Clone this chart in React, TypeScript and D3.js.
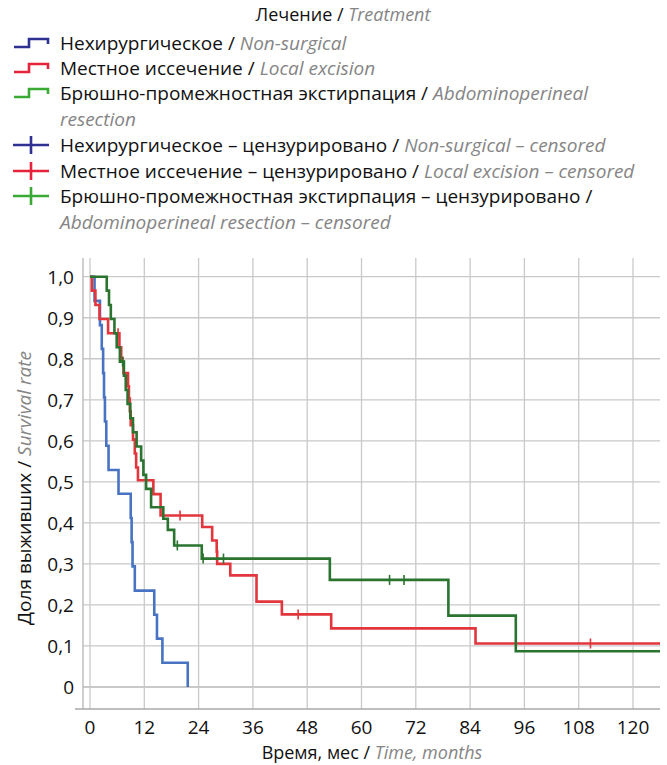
import React from "react";
import * as d3 from "d3";

// Kaplan–Meier step data: event times (months) and survival after each step
const nonSurgicalTimes = [0, 1.0, 2.2, 2.6, 2.9, 3.1, 3.3, 3.6, 4.1, 6.3, 9.0, 9.2, 9.4, 9.9, 14.2, 14.8, 16.0, 21.6];
const nonSurgicalSurv = [1, 0.941, 0.882, 0.824, 0.765, 0.706, 0.647, 0.588, 0.529, 0.471, 0.412, 0.353, 0.294, 0.235, 0.176, 0.118, 0.059, 0];
const nonSurgicalEnd = 21.6;
const nonSurgicalCensored: number[] = [];

const localTimes = [0, 0.4, 1.2, 2.1, 4.0, 6.5, 6.9, 7.4, 8.4, 8.6, 8.8, 9.0, 9.5, 9.9, 10.2, 10.6, 14.0, 15.6, 24.8, 27.0, 28.0, 28.1, 31.0, 36.8, 42.4, 53.3, 85.2];
const localSurv = [1, 0.966, 0.931, 0.897, 0.862, 0.828, 0.793, 0.765, 0.733, 0.703, 0.672, 0.638, 0.603, 0.569, 0.535, 0.504, 0.47, 0.418, 0.39, 0.357, 0.33, 0.3, 0.272, 0.208, 0.177, 0.143, 0.106];
const localEnd = 127;
const localCensored = [6.2, 7.3, 19.9, 46.0, 110.6];

const aprTimes = [0, 3.7, 4.2, 4.6, 5.4, 5.9, 6.6, 7.5, 7.9, 8.3, 8.9, 9.5, 10.3, 11.3, 11.8, 12.4, 13.5, 16.2, 17.2, 18.6, 24.7, 53.0, 79.2, 94.1];
const aprSurv = [1, 0.966, 0.931, 0.897, 0.862, 0.828, 0.793, 0.759, 0.724, 0.69, 0.655, 0.621, 0.586, 0.552, 0.517, 0.483, 0.438, 0.41, 0.383, 0.345, 0.313, 0.261, 0.174, 0.087];
const aprEnd = 127;
const aprCensored = [7.2, 19.3, 25.0, 29.5, 66.2, 69.4];

const xTicks = [0, 12, 24, 36, 48, 60, 72, 84, 96, 108, 120];
const yTicks = [0, 0.1, 0.2, 0.3, 0.4, 0.5, 0.6, 0.7, 0.8, 0.9, 1.0];

const legendTitle = ["Лечение / ", "Treatment"];
const legendRows = [
  { ru: "Нехирургическое / ", en: "Non-surgical", kind: "step", color: "#2e3192", extra: null },
  { ru: "Местное иссечение / ", en: "Local excision", kind: "step", color: "#e5243b", extra: null },
  { ru: "Брюшно-промежностная экстирпация / ", en: "Abdominoperineal", kind: "step", color: "#3aaa35", extra: "resection" },
  { ru: "Нехирургическое – цензурировано / ", en: "Non-surgical – censored", kind: "cross", color: "#2e3192", extra: null },
  { ru: "Местное иссечение – цензурировано / ", en: "Local excision – censored", kind: "cross", color: "#e5243b", extra: null },
  { ru: "Брюшно-промежностная экстирпация – цензурировано / ", en: "", kind: "cross", color: "#3aaa35", extra: "Abdominoperineal resection – censored" },
];

const FONT = "'Open Sans', 'Noto Sans', sans-serif";
const FS = 19;
const GREY = "#858585";

const W = 667;
const H = 765;
const plot = { left: 83, right: 660, top: 258, bottom: 709 };

const x = d3.scaleLinear().domain([0, 120]).range([90, 633]);
const y = d3.scaleLinear().domain([0, 1]).range([687, 276.7]);

type Series = {
  times: number[];
  surv: number[];
  end: number;
  censored: number[];
  color: string;
};

const series: Series[] = [
  { times: nonSurgicalTimes, surv: nonSurgicalSurv, end: nonSurgicalEnd, censored: nonSurgicalCensored, color: "#4773c2" },
  { times: localTimes, surv: localSurv, end: localEnd, censored: localCensored, color: "#e2353c" },
  { times: aprTimes, surv: aprSurv, end: aprEnd, censored: aprCensored, color: "#2a7430" },
];

function survivalAt(s: Series, t: number) {
  let v = s.surv[0];
  for (let i = 0; i < s.times.length; i++) {
    if (s.times[i] <= t) v = s.surv[i];
  }
  return v;
}

const stepLine = d3
  .line<[number, number]>()
  .x((d) => x(d[0]))
  .y((d) => y(d[1]))
  .curve(d3.curveStepAfter);

function seriesPath(s: Series) {
  const pts: [number, number][] = s.times.map((t, i) => [t, s.surv[i]]);
  if (s.end > s.times[s.times.length - 1]) pts.push([s.end, s.surv[s.surv.length - 1]]);
  return stepLine(pts) || "";
}

const fmt = (v: number) => (v === 0 ? "0" : v.toFixed(1).replace(".", ","));

export default function App() {
  const legendX = 60;
  const rowY = [50, 75, 100, 126, 152, 178, 203, 229];
  let r = 0;
  const legendItems: React.ReactNode[] = [];
  legendRows.forEach((row, i) => {
    const yy = rowY[r];
    const cy = yy - 7;
    const icon =
      row.kind === "step" ? (
        <path
          d={`M14,${cy + 4}H29V${cy - 4}H48V${cy + 1}`}
          fill="none"
          stroke={row.color}
          strokeWidth={2.6}
        />
      ) : (
        <g stroke={row.color} strokeWidth={2.6}>
          <line x1={13} x2={49} y1={cy} y2={cy} />
          <line x1={31} x2={31} y1={cy - 9} y2={cy + 9} />
        </g>
      );
    legendItems.push(
      <g key={i}>
        {icon}
        <text x={legendX} y={yy} fontFamily={FONT} fontSize={FS} fill="#111">
          {row.ru}
          {row.en && (
            <tspan fill={GREY} fontStyle="italic">
              {row.en}
            </tspan>
          )}
        </text>
        {row.extra && (
          <text x={legendX} y={rowY[r + 1]} fontFamily={FONT} fontSize={FS} fill={GREY} fontStyle="italic">
            {row.extra}
          </text>
        )}
      </g>
    );
    r += row.extra ? 2 : 1;
  });

  return (
    <svg
      width={W}
      height={H}
      style={{ position: "absolute", left: 0, top: 0, background: "#fff" }}
    >
      <defs>
        <clipPath id="plotClip">
          <rect x={plot.left} y={plot.top} width={plot.right - plot.left} height={plot.bottom - plot.top} />
        </clipPath>
      </defs>

      {/* legend */}
      <text x={343} y={21} textAnchor="middle" fontFamily={FONT} fontSize={18} fill="#111">
        {legendTitle[0]}
        <tspan fill={GREY} fontStyle="italic">
          {legendTitle[1]}
        </tspan>
      </text>
      {legendItems}

      {/* grid */}
      <g stroke="#c9c9c9" strokeWidth={1.3}>
        {yTicks.map((v) => (
          <line key={"h" + v} x1={plot.left} x2={plot.right} y1={y(v)} y2={y(v)} strokeWidth={v === 0 ? 2 : 1.3} />
        ))}
        {xTicks.map((v) => (
          <line key={"v" + v} x1={x(v)} x2={x(v)} y1={plot.top} y2={plot.bottom} />
        ))}
      </g>
      <line x1={plot.left} x2={plot.left} y1={plot.top} y2={plot.bottom} stroke="#b5b5b5" strokeWidth={1.3} />
      <line x1={plot.left - 8} x2={plot.right} y1={plot.bottom} y2={plot.bottom} stroke="#a8a8a8" strokeWidth={1.3} />

      {/* survival curves */}
      <g clipPath="url(#plotClip)">
        {series.map((s, i) => (
          <g key={i}>
            <path d={seriesPath(s)} fill="none" stroke={s.color} strokeWidth={2.6} />
            {s.censored.map((t, j) => {
              const cx = x(t);
              const cy = y(survivalAt(s, t));
              return (
                <line key={j} x1={cx} x2={cx} y1={cy - 5} y2={cy + 5} stroke={s.color} strokeWidth={1.6} />
              );
            })}
          </g>
        ))}
      </g>

      {/* axis labels */}
      {yTicks.map((v) => (
        <text key={"yl" + v} x={74} y={y(v) + 7} textAnchor="end" fontFamily={FONT} fontSize={FS} fill="#111">
          {fmt(v)}
        </text>
      ))}
      {xTicks.map((v) => (
        <text key={"xl" + v} x={x(v)} y={734} textAnchor="middle" fontFamily={FONT} fontSize={FS} fill="#111">
          {v}
        </text>
      ))}
      <text x={372} y={759} textAnchor="middle" fontFamily={FONT} fontSize={18} fill="#111">
        Время, мес /{" "}
        <tspan fill={GREY} fontStyle="italic">
          Time, months
        </tspan>
      </text>
      <text
        transform={`translate(31,${488}) rotate(-90)`}
        textAnchor="middle"
        fontFamily={FONT}
        fontSize={FS}
        fill="#111"
      >
        Доля выживших /{" "}
        <tspan fill={GREY} fontStyle="italic">
          Survival rate
        </tspan>
      </text>
    </svg>
  );
}
